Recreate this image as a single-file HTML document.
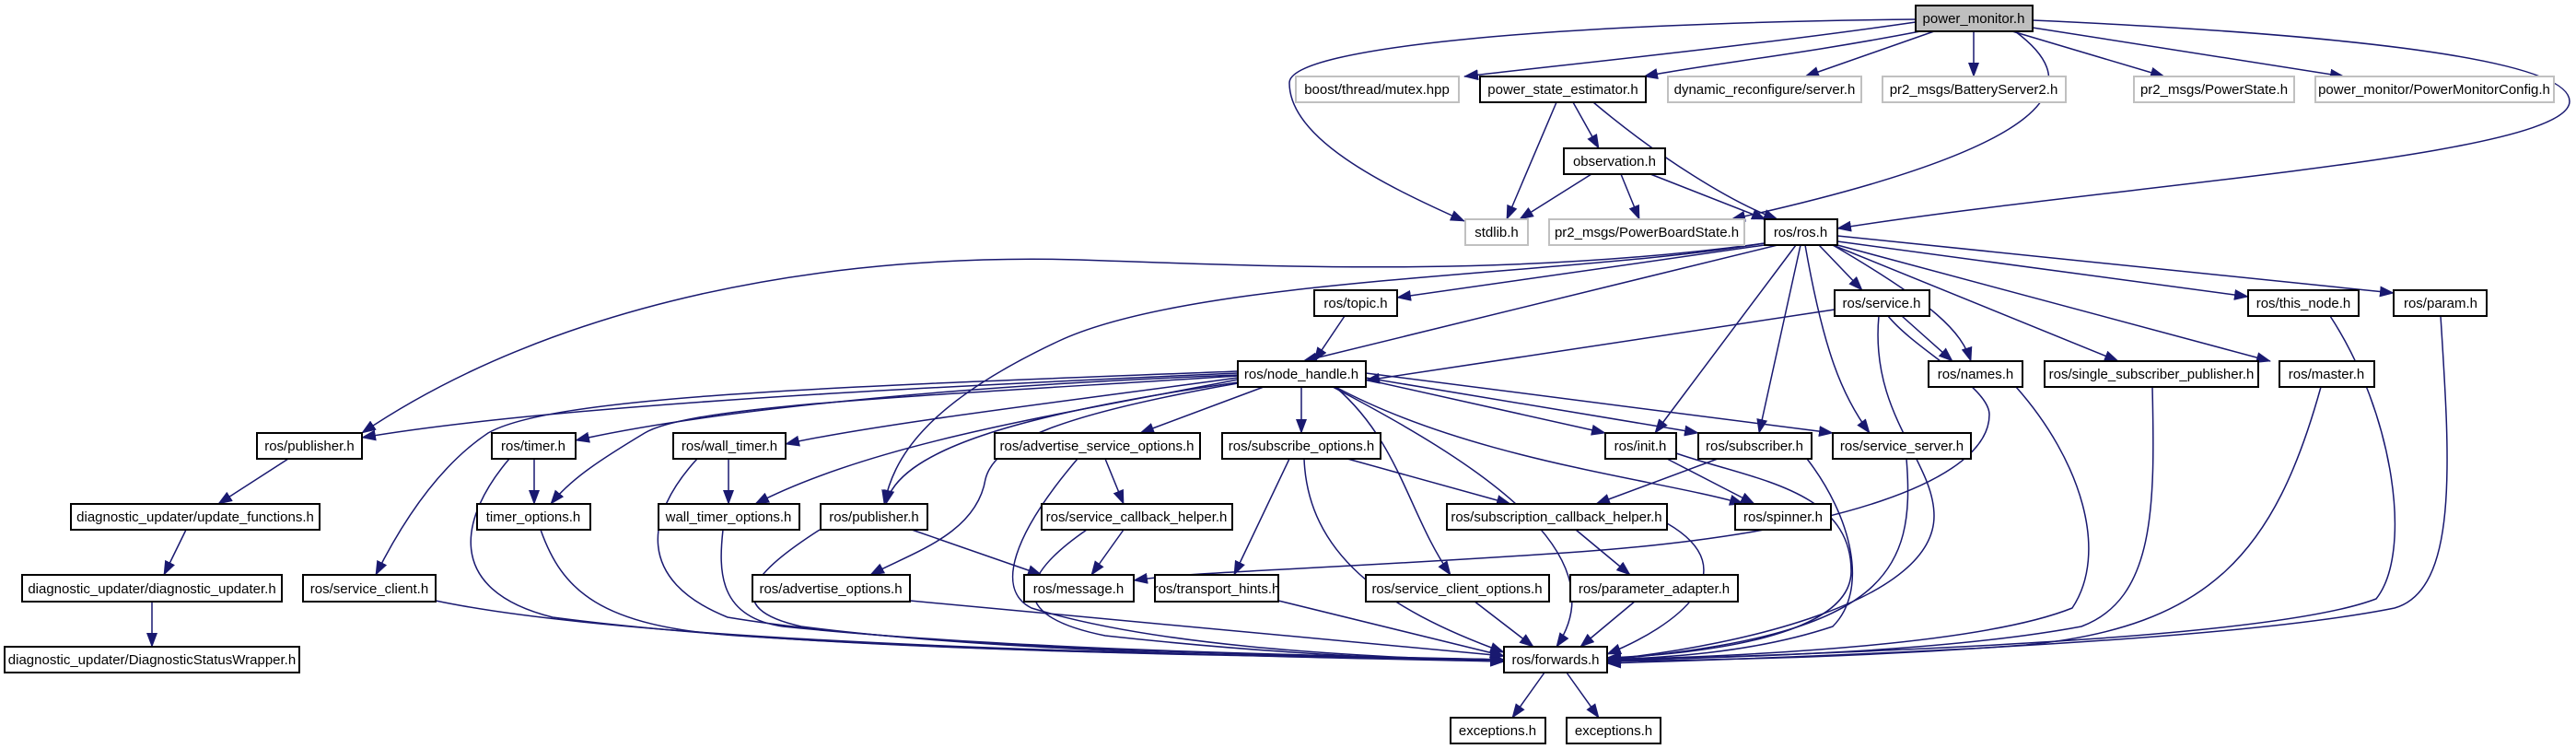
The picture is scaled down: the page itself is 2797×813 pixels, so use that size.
<!DOCTYPE html>
<html><head><meta charset="utf-8"><style>
html,body{margin:0;padding:0;background:#fff}
svg{display:block}
text{font-family:"Liberation Sans","DejaVu Sans",sans-serif;font-size:15px;fill:#000;text-anchor:middle}
.n{fill:#fff;stroke:#000;stroke-width:2}
.g{fill:#fff;stroke:#c0c0c0;stroke-width:2}
.e{fill:none;stroke:#191970;stroke-width:1.5;marker-end:url(#a)}
</style></head><body>
<svg width="2797" height="813" viewBox="0 0 2797 813" xmlns="http://www.w3.org/2000/svg">
<defs><marker id="a" markerUnits="userSpaceOnUse" markerWidth="16" markerHeight="12" refX="15" refY="6" orient="auto"><path d="M0,0 L16,6 L0,12 z" fill="#191970"/></marker></defs>
<g>
<path class="e" d="M2080,24 C1900,50 1700,70 1590,83"/>
<path class="e" d="M2085,34 C1950,60 1850,70 1785,83"/>
<path class="e" d="M2100,34 L1960,83"/>
<path class="e" d="M2143,34 L2143,83"/>
<path class="e" d="M2185,34 L2350,83"/>
<path class="e" d="M2207,30 L2545,83"/>
<path class="e" d="M2080,21 C1700,25 1400,50 1400,90 C1400,150 1500,200 1590,240"/>
<path class="e" d="M2188,34 C2250,80 2280,150 1880,238"/>
<path class="e" d="M2207,22 C2500,35 2790,60 2790,110 C2790,170 2300,200 1995,248"/>
<path class="e" d="M1690,111 L1636,238"/>
<path class="e" d="M1708,111 L1736,161"/>
<path class="e" d="M1730,111 C1800,170 1880,220 1930,238"/>
<path class="e" d="M1728,189 L1650,238"/>
<path class="e" d="M1760,189 L1780,238"/>
<path class="e" d="M1792,189 L1917,238"/>
<path class="e" d="M1916,266 L1517,323"/>
<path class="e" d="M1975,266 L2022,315"/>
<path class="e" d="M1995,262 L2441,322"/>
<path class="e" d="M1995,256 L2599,318"/>
<path class="e" d="M1990,266 C2100,330 2130,360 2140,392"/>
<path class="e" d="M1990,266 L2300,392"/>
<path class="e" d="M1995,266 L2465,392"/>
<path class="e" d="M1930,266 L1415,392"/>
<path class="e" d="M1916,264 C1650,300 1400,290 1200,283 C900,270 600,330 393,470"/>
<path class="e" d="M1916,264 C1700,300 1300,300 1150,370 C1000,440 970,500 960,547"/>
<path class="e" d="M1950,266 L1797,470"/>
<path class="e" d="M1955,266 L1910,470"/>
<path class="e" d="M1960,266 C1980,380 2000,430 2030,470"/>
<path class="e" d="M1992,336 L1483,413"/>
<path class="e" d="M2065,343 L2120,392"/>
<path class="e" d="M2050,343 C2080,380 2160,420 2160,450 C2160,520 2000,580 1700,600 C1400,620 1300,620 1231,630"/>
<path class="e" d="M2040,343 C2030,450 2100,500 2100,560 C2100,650 1900,700 1745,716"/>
<path class="e" d="M1460,343 L1427,392"/>
<path class="e" d="M2530,343 C2600,450 2620,600 2580,650 C2450,700 1900,710 1745,718"/>
<path class="e" d="M2650,343 C2660,500 2670,640 2600,660 C2400,700 1900,715 1745,720"/>
<path class="e" d="M2189,420 C2260,500 2290,600 2250,660 C2150,700 1900,712 1745,716"/>
<path class="e" d="M2337,420 C2340,550 2340,650 2260,680 C2100,710 1850,714 1745,717"/>
<path class="e" d="M2520,420 C2470,600 2400,680 2200,700 C2000,715 1850,716 1745,718"/>
<path class="e" d="M1344,405 C1000,420 600,440 393,475"/>
<path class="e" d="M1344,407 C1000,420 750,450 625,478"/>
<path class="e" d="M1344,410 C1200,430 950,460 853,482"/>
<path class="e" d="M1344,408 C1000,430 750,440 700,470 C650,500 620,520 598,547"/>
<path class="e" d="M1344,412 C1150,450 950,480 820,547"/>
<path class="e" d="M1344,415 C1100,450 975,490 962,547"/>
<path class="e" d="M1344,403 C900,420 600,430 530,470 C470,510 430,580 408,624"/>
<path class="e" d="M1344,416 C1150,450 1080,480 1070,520 C1060,580 990,600 945,624"/>
<path class="e" d="M1372,420 L1238,470"/>
<path class="e" d="M1413,420 L1413,470"/>
<path class="e" d="M1483,412 L1743,470"/>
<path class="e" d="M1483,410 L1844,470"/>
<path class="e" d="M1483,405 L1990,470"/>
<path class="e" d="M1450,420 C1600,500 1800,520 1893,547"/>
<path class="e" d="M1450,420 C1520,480 1530,560 1575,624"/>
<path class="e" d="M1447,420 C1600,500 1760,600 1690,702"/>
<path class="e" d="M313,498 L237,547"/>
<path class="e" d="M202,575 L178,624"/>
<path class="e" d="M165,653 L165,702"/>
<path class="e" d="M580,498 L580,547"/>
<path class="e" d="M553,498 C500,560 480,640 600,670 C900,710 1400,712 1633,716"/>
<path class="e" d="M587,575 C610,640 650,680 800,690 C1100,710 1400,712 1633,716"/>
<path class="e" d="M791,498 L791,547"/>
<path class="e" d="M757,498 C700,560 690,630 790,670 C1000,705 1400,712 1633,716"/>
<path class="e" d="M785,575 C780,620 780,670 850,680 C1100,706 1450,712 1633,716"/>
<path class="e" d="M990,575 L1131,624"/>
<path class="e" d="M890,575 C820,620 780,660 870,680 C1100,710 1450,714 1633,718"/>
<path class="e" d="M1200,498 L1220,547"/>
<path class="e" d="M1170,498 C1100,580 1080,640 1120,660 C1250,700 1450,712 1633,718"/>
<path class="e" d="M1220,575 L1185,624"/>
<path class="e" d="M1180,575 C1100,630 1100,670 1200,690 C1400,712 1550,716 1633,718"/>
<path class="e" d="M988,652 L1633,712"/>
<path class="e" d="M473,652 C700,700 1300,712 1633,716"/>
<path class="e" d="M1463,498 L1640,547"/>
<path class="e" d="M1400,498 L1340,624"/>
<path class="e" d="M1416,498 C1420,600 1500,660 1633,708"/>
<path class="e" d="M1388,652 L1633,712"/>
<path class="e" d="M1810,498 L1905,547"/>
<path class="e" d="M1820,492 C1900,520 2010,530 2010,620 C2010,690 1850,710 1745,714"/>
<path class="e" d="M1865,498 L1733,547"/>
<path class="e" d="M1962,498 C2010,560 2030,640 1990,680 C1900,710 1800,714 1745,716"/>
<path class="e" d="M2070,498 C2080,620 2050,690 1745,716"/>
<path class="e" d="M1711,575 L1770,624"/>
<path class="e" d="M1810,568 C1900,620 1820,680 1745,710"/>
<path class="e" d="M1776,652 L1716,702"/>
<path class="e" d="M1600,652 L1665,702"/>
<path class="e" d="M1677,730 L1642,779"/>
<path class="e" d="M1701,730 L1736,779"/>
</g>
<g>
<rect x="2080" y="6" width="127" height="28" fill="#bfbfbf" stroke="#000" stroke-width="2"/><text x="2143" y="25">power_monitor.h</text>
<rect class="g" x="1407" y="83" width="177" height="28"/><text x="1495" y="102">boost/thread/mutex.hpp</text>
<rect class="n" x="1607" y="83" width="180" height="28"/><text x="1697" y="102">power_state_estimator.h</text>
<rect class="g" x="1811" y="83" width="210" height="28"/><text x="1916" y="102">dynamic_reconfigure/server.h</text>
<rect class="g" x="2044" y="83" width="199" height="28"/><text x="2143" y="102">pr2_msgs/BatteryServer2.h</text>
<rect class="g" x="2317" y="83" width="174" height="28"/><text x="2404" y="102">pr2_msgs/PowerState.h</text>
<rect class="g" x="2514" y="83" width="259" height="28"/><text x="2643" y="102">power_monitor/PowerMonitorConfig.h</text>
<rect class="n" x="1698" y="161" width="110" height="28"/><text x="1753" y="180">observation.h</text>
<rect class="g" x="1591" y="238" width="68" height="28"/><text x="1625" y="257">stdlib.h</text>
<rect class="g" x="1682" y="238" width="212" height="28"/><text x="1788" y="257">pr2_msgs/PowerBoardState.h</text>
<rect class="n" x="1916" y="238" width="79" height="28"/><text x="1955" y="257">ros/ros.h</text>
<rect class="n" x="1427" y="315" width="90" height="28"/><text x="1472" y="334">ros/topic.h</text>
<rect class="n" x="1992" y="315" width="103" height="28"/><text x="2043" y="334">ros/service.h</text>
<rect class="n" x="2441" y="315" width="120" height="28"/><text x="2501" y="334">ros/this_node.h</text>
<rect class="n" x="2599" y="315" width="101" height="28"/><text x="2650" y="334">ros/param.h</text>
<rect class="n" x="1344" y="392" width="139" height="28"/><text x="1413" y="411">ros/node_handle.h</text>
<rect class="n" x="2094" y="392" width="102" height="28"/><text x="2145" y="411">ros/names.h</text>
<rect class="n" x="2220" y="392" width="232" height="28"/><text x="2336" y="411">ros/single_subscriber_publisher.h</text>
<rect class="n" x="2475" y="392" width="103" height="28"/><text x="2526" y="411">ros/master.h</text>
<rect class="n" x="279" y="470" width="114" height="28"/><text x="336" y="489">ros/publisher.h</text>
<rect class="n" x="534" y="470" width="91" height="28"/><text x="579" y="489">ros/timer.h</text>
<rect class="n" x="731" y="470" width="122" height="28"/><text x="792" y="489">ros/wall_timer.h</text>
<rect class="n" x="1080" y="470" width="223" height="28"/><text x="1191" y="489">ros/advertise_service_options.h</text>
<rect class="n" x="1327" y="470" width="172" height="28"/><text x="1413" y="489">ros/subscribe_options.h</text>
<rect class="n" x="1743" y="470" width="77" height="28"/><text x="1781" y="489">ros/init.h</text>
<rect class="n" x="1844" y="470" width="123" height="28"/><text x="1905" y="489">ros/subscriber.h</text>
<rect class="n" x="1990" y="470" width="150" height="28"/><text x="2065" y="489">ros/service_server.h</text>
<rect class="n" x="77" y="547" width="270" height="28"/><text x="212" y="566">diagnostic_updater/update_functions.h</text>
<rect class="n" x="518" y="547" width="123" height="28"/><text x="579" y="566">timer_options.h</text>
<rect class="n" x="715" y="547" width="153" height="28"/><text x="791" y="566">wall_timer_options.h</text>
<rect class="n" x="891" y="547" width="116" height="28"/><text x="949" y="566">ros/publisher.h</text>
<rect class="n" x="1131" y="547" width="207" height="28"/><text x="1234" y="566">ros/service_callback_helper.h</text>
<rect class="n" x="1571" y="547" width="239" height="28"/><text x="1690" y="566">ros/subscription_callback_helper.h</text>
<rect class="n" x="1884" y="547" width="104" height="28"/><text x="1936" y="566">ros/spinner.h</text>
<rect class="n" x="24" y="624" width="282" height="29"/><text x="165" y="644">diagnostic_updater/diagnostic_updater.h</text>
<rect class="n" x="329" y="624" width="144" height="29"/><text x="401" y="644">ros/service_client.h</text>
<rect class="n" x="817" y="624" width="171" height="29"/><text x="902" y="644">ros/advertise_options.h</text>
<rect class="n" x="1112" y="624" width="119" height="29"/><text x="1171" y="644">ros/message.h</text>
<rect class="n" x="1254" y="624" width="134" height="29"/><text x="1321" y="644">ros/transport_hints.h</text>
<rect class="n" x="1483" y="624" width="199" height="29"/><text x="1582" y="644">ros/service_client_options.h</text>
<rect class="n" x="1705" y="624" width="182" height="29"/><text x="1796" y="644">ros/parameter_adapter.h</text>
<rect class="n" x="5" y="702" width="320" height="28"/><text x="165" y="721">diagnostic_updater/DiagnosticStatusWrapper.h</text>
<rect class="n" x="1633" y="702" width="112" height="28"/><text x="1689" y="721">ros/forwards.h</text>
<rect class="n" x="1575" y="779" width="103" height="28"/><text x="1626" y="798">exceptions.h</text>
<rect class="n" x="1701" y="779" width="102" height="28"/><text x="1752" y="798">exceptions.h</text>
</g>
</svg>
</body></html>
